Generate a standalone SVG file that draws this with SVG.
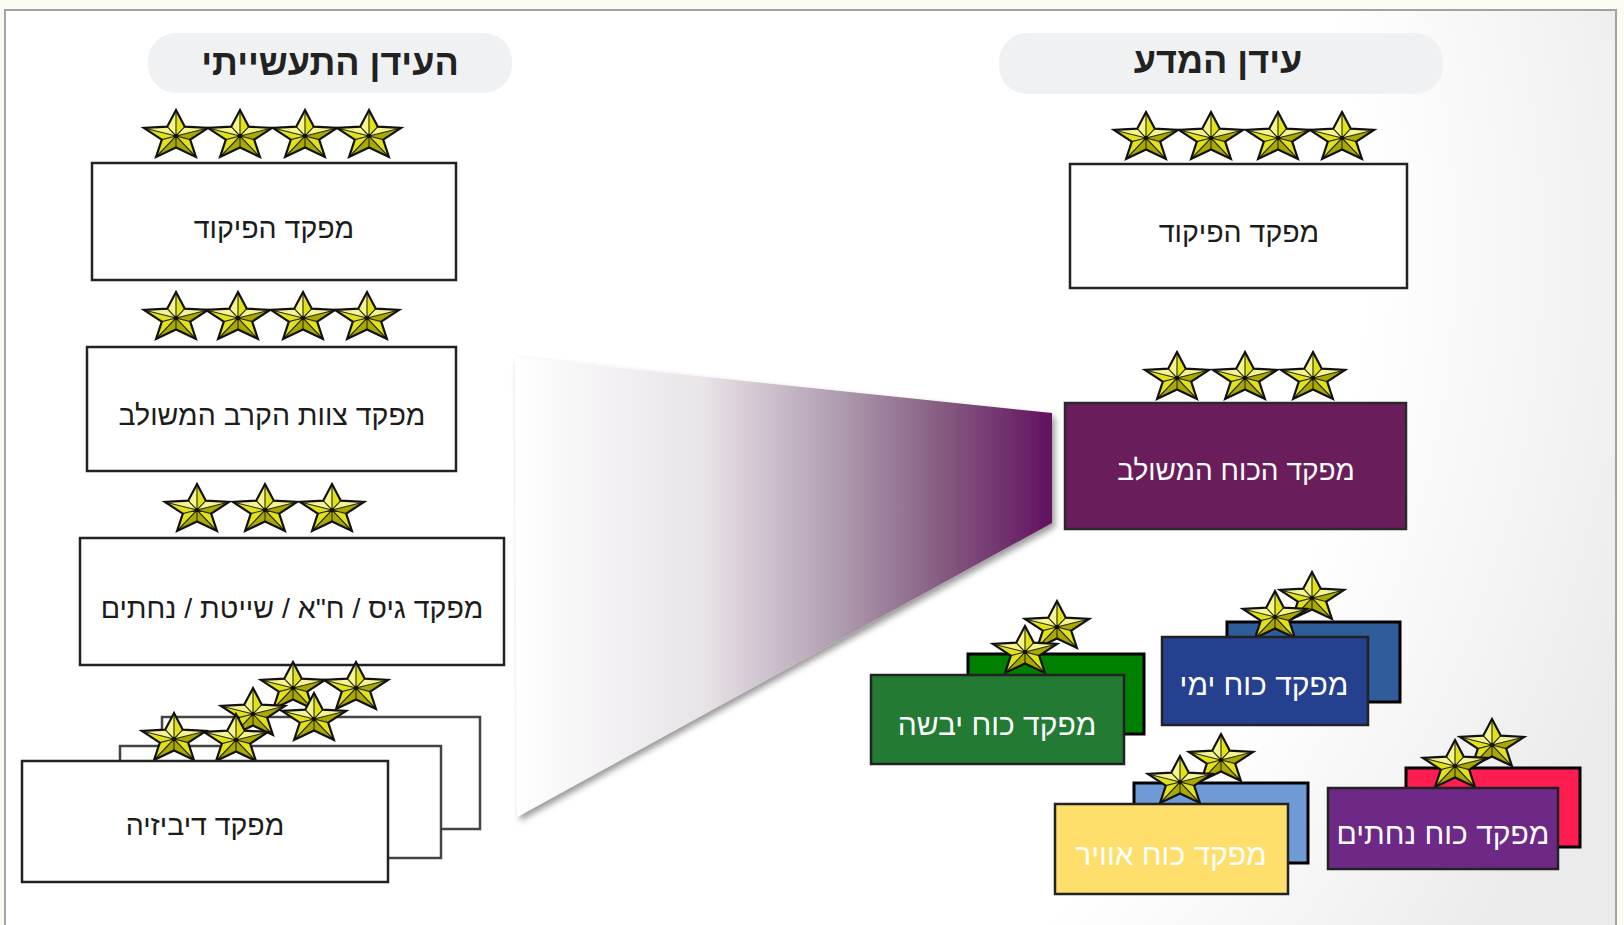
<svg xmlns="http://www.w3.org/2000/svg" xmlns:xlink="http://www.w3.org/1999/xlink" width="1624" height="925" viewBox="0 0 1624 925">
<style>
.hd{font-family:"Liberation Sans",Arial,sans-serif;font-weight:bold;font-size:36px;fill:#222;text-anchor:middle;direction:rtl}
.t{font-family:"Liberation Sans",Arial,sans-serif;font-size:28.5px;fill:#1c1c1c;text-anchor:middle;direction:rtl}
.w{font-family:"Liberation Sans",Arial,sans-serif;font-size:30px;fill:#ffffff;text-anchor:middle;direction:rtl}
.pill{fill:#f0f1f3}
.box{fill:#ffffff;stroke:#222;stroke-width:2.5}
.bk{fill:#ffffff;stroke:#444;stroke-width:2.5}
.cb{stroke:#000;stroke-width:3}
.cf{stroke:#222;stroke-width:2.5}
</style>
<defs>
<radialGradient id="bg" gradientUnits="userSpaceOnUse" cx="500" cy="250" r="1200">
<stop offset="0" stop-color="#ffffff"/>
<stop offset="0.72" stop-color="#ffffff"/>
<stop offset="0.88" stop-color="#f4f4f4"/>
<stop offset="1" stop-color="#ebebeb"/>
</radialGradient>
<linearGradient id="fun" gradientUnits="userSpaceOnUse" x1="515" y1="0" x2="1052" y2="0">
<stop offset="0" stop-color="#ffffff"/>
<stop offset="0.35" stop-color="#e8e4e8"/>
<stop offset="0.6" stop-color="#b09db0"/>
<stop offset="0.8" stop-color="#845a80"/>
<stop offset="1" stop-color="#62115f"/>
</linearGradient>
<filter id="sh" x="-10%" y="-10%" width="130%" height="130%">
<feDropShadow dx="3" dy="4" stdDeviation="3" flood-color="#000" flood-opacity="0.4"/>
</filter>
<g id="star">
<polygon points="0,-26 8.8,-9.3 32.1,-8 14.2,3.6 19.9,21 0,11.5 -19.9,21 -14.2,3.6 -32.1,-8 -8.8,-9.3" fill="#e2e21a"/>
<polygon points="0,0 -8.8,-9.3 0,-26" fill="#f4f490"/>
<polygon points="0,0 8.8,-9.3 32.1,-8" fill="#f4f490"/>
<polygon points="0,0 -32.1,-8 -8.8,-9.3" fill="#f4f490"/>
<polygon points="0,0 32.1,-8 14.2,3.6" fill="#a9a900"/>
<polygon points="0,0 19.9,21 0,11.5" fill="#a9a900"/>
<polygon points="0,0 0,11.5 -19.9,21" fill="#a9a900"/>
<path d="M0,0L0,-26M0,0L32.1,-8M0,0L19.9,21M0,0L-19.9,21M0,0L-32.1,-8M0,0L8.8,-9.3M0,0L14.2,3.6M0,0L0,11.5M0,0L-14.2,3.6M0,0L-8.8,-9.3" stroke="#2a2a00" stroke-width="1.1"/>
<circle cx="0" cy="0" r="2.2" fill="#111"/>
<polygon points="0,-26 8.8,-9.3 32.1,-8 14.2,3.6 19.9,21 0,11.5 -19.9,21 -14.2,3.6 -32.1,-8 -8.8,-9.3" fill="none" stroke="#111" stroke-width="2.2"/>
</g>
</defs>

<rect x="0" y="0" width="1624" height="925" fill="#fbfbf2"/>
<rect x="5" y="10" width="1611" height="930" fill="url(#bg)" stroke="#a3a3a3" stroke-width="2"/>

<g id="connectors">
<polygon points="515,357 1052,413 1052,523 517,817" fill="url(#fun)" filter="url(#sh)"/>
</g>

<g id="header-industrial">
<rect class="pill" x="148" y="33" width="364" height="60" rx="28"/>
<text class="hd" x="330" y="75">העידן התעשייתי</text>
</g>

<g id="node-l1">
<use href="#star" x="176" y="136"/>
<use href="#star" x="240" y="136"/>
<use href="#star" x="305" y="136"/>
<use href="#star" x="369" y="136"/>
<rect class="box" x="92" y="163" width="364" height="117"/>
<text class="t" x="274" y="238">מפקד הפיקוד</text>
</g>

<g id="node-l2">
<use href="#star" x="176" y="318"/>
<use href="#star" x="238" y="318"/>
<use href="#star" x="303" y="318"/>
<use href="#star" x="367" y="318"/>
<rect class="box" x="87" y="347" width="369" height="124"/>
<text class="t" x="272" y="425">מפקד צוות הקרב המשולב</text>
</g>

<g id="node-l3">
<use href="#star" x="197" y="510"/>
<use href="#star" x="265" y="510"/>
<use href="#star" x="332" y="510"/>
<rect class="box" x="80" y="538" width="424" height="127"/>
<text class="t" x="292" y="618">מפקד גיס / ח"א / שייטת / נחתים</text>
</g>

<g id="node-l4">
<rect class="bk" x="162" y="717" width="318" height="112"/>
<use href="#star" x="293" y="688"/>
<use href="#star" x="356" y="688"/>
<rect class="bk" x="120" y="746" width="321" height="112"/>
<use href="#star" x="253" y="714"/>
<use href="#star" x="314" y="719"/>
<use href="#star" x="174" y="739"/>
<use href="#star" x="236" y="740"/>
<rect class="box" x="22" y="761" width="366" height="121"/>
<text class="t" x="205" y="835">מפקד דיביזיה</text>
</g>

<g id="header-info">
<rect class="pill" x="999" y="33" width="444" height="61" rx="28"/>
<text class="hd" x="1218" y="73">עידן המדע</text>
</g>

<g id="node-r1">
<use href="#star" x="1146" y="138"/>
<use href="#star" x="1211" y="138"/>
<use href="#star" x="1278" y="138"/>
<use href="#star" x="1342" y="138"/>
<rect class="box" x="1070" y="164" width="337" height="124"/>
<text class="t" x="1239" y="242">מפקד הפיקוד</text>
</g>

<g id="node-r2">
<use href="#star" x="1177" y="378"/>
<use href="#star" x="1245" y="378"/>
<use href="#star" x="1313" y="378"/>
<rect x="1065" y="403" width="341" height="126" fill="#6a1d5b" stroke="#2a2a2a" stroke-width="2.5"/>
<text class="w" x="1236" y="480" style="font-size:28px">מפקד הכוח המשולב</text>
</g>

<g id="node-land">
<rect class="cb" x="968" y="654" width="176" height="80" fill="#008000"/>
<use href="#star" x="1057" y="627"/>
<use href="#star" x="1025" y="652"/>
<rect class="cf" x="871" y="675" width="253" height="89" fill="#237a33"/>
<text class="w" x="997" y="735">מפקד כוח יבשה</text>
</g>

<g id="node-sea">
<rect class="cb" x="1227" y="622" width="173" height="80" fill="#2f5c9a"/>
<use href="#star" x="1312" y="598"/>
<use href="#star" x="1275" y="617"/>
<rect class="cf" x="1162" y="637" width="206" height="88" fill="#25408f"/>
<text class="w" x="1264" y="695">מפקד כוח ימי</text>
</g>

<g id="node-air">
<rect class="cb" x="1134" y="783" width="174" height="80" fill="#6f9ad5"/>
<use href="#star" x="1221" y="760"/>
<use href="#star" x="1180" y="782"/>
<rect class="cf" x="1055" y="804" width="233" height="90" fill="#ffdf6b"/>
<text class="w" x="1171" y="865">מפקד כוח אוויר</text>
</g>

<g id="node-marines">
<rect class="cb" x="1406" y="768" width="174" height="79" fill="#ff1c50"/>
<use href="#star" x="1492" y="745"/>
<use href="#star" x="1455" y="766"/>
<rect class="cf" x="1328" y="788" width="230" height="81" fill="#6e2886"/>
<text class="w" x="1443" y="844">מפקד כוח נחתים</text>
</g>
</svg>
